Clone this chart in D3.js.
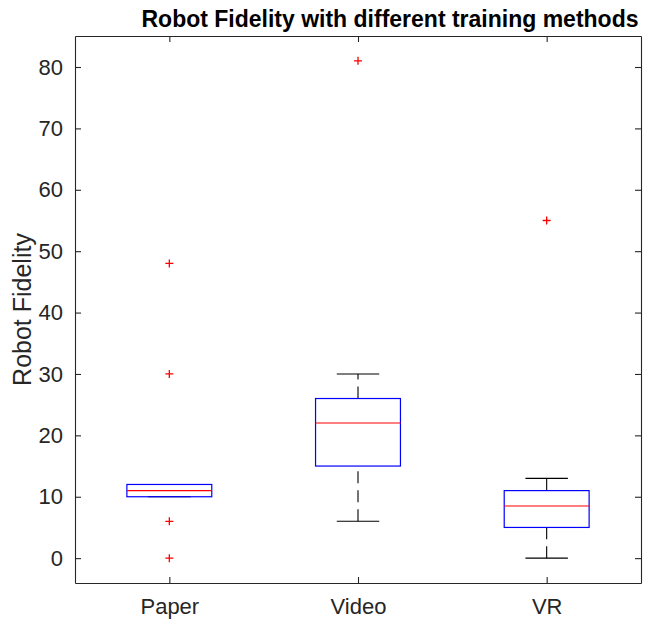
<!DOCTYPE html>
<html>
<head>
<meta charset="utf-8">
<script src="https://cdn.jsdelivr.net/npm/d3@7"></script>
<style>
  html, body { margin: 0; padding: 0; background: #fff; }
  svg { display: block; }
  text { font-family: "Liberation Sans", Arial, Helvetica, sans-serif; }
</style>
</head>
<body>
<svg id="chart" width="648" height="622"></svg>
<script>
// ---- data ----
const categories = ["Paper", "Video", "VR"];
const q1Values = [10, 15, 5];
const medianValues = [11, 22, 8.5];
const q3Values = [12, 26, 11];
const lowerWhisker = [10, 6, 0];
const upperWhisker = [12, 30, 13];
const outliers = [[48, 30, 6, 0], [81], [55]];
const yTicks = [0, 10, 20, 30, 40, 50, 60, 70, 80];
const titleText = "Robot Fidelity with different training methods";
const yLabelText = "Robot Fidelity";

// ---- layout ----
const svg = d3.select("#chart");
const L = 75, R = 641, T = 36, B = 583;
const axisColor = "#262626";

const x = d3.scaleLinear().domain([0.5, 3.5]).range([L, R]);
const y = d3.scaleLinear().domain([-4.05, 85.05]).range([B, T]);
const boxW = 0.45;
const capW = boxW / 2;

// axes
const tickLen = 6;
const yAxisL = d3.axisLeft(y).tickValues(yTicks).tickSizeInner(-tickLen).tickSizeOuter(0).tickPadding(12);
const yAxisR = d3.axisRight(y).tickValues(yTicks).tickSizeInner(-tickLen).tickSizeOuter(0).tickFormat("");
const xAxisB = d3.axisBottom(x).tickValues([1, 2, 3]).tickFormat((d) => categories[d - 1]).tickSizeInner(-tickLen).tickSizeOuter(0).tickPadding(15);
const xAxisT = d3.axisTop(x).tickValues([1, 2, 3]).tickSizeInner(-tickLen).tickSizeOuter(0).tickFormat("");

function styleAxis(g) {
  g.select(".domain").attr("stroke", axisColor).attr("stroke-width", 1.1);
  g.selectAll(".tick line").attr("stroke", axisColor).attr("stroke-width", 1.1);
  g.selectAll(".tick text").attr("fill", axisColor).attr("font-size", 22)
    .attr("font-family", "'Liberation Sans', Arial, Helvetica, sans-serif");
}

svg.append("g").attr("transform", `translate(${L},0)`).call(yAxisL).call(styleAxis);
svg.append("g").attr("transform", `translate(${R},0)`).call(yAxisR).call(styleAxis);
svg.append("g").attr("transform", `translate(0,${B})`).call(xAxisB).call(styleAxis);
svg.append("g").attr("transform", `translate(0,${T})`).call(xAxisT).call(styleAxis);

// boxes
const data = categories.map((c, i) => ({
  i: i + 1, q1: q1Values[i], med: medianValues[i], q3: q3Values[i],
  lo: lowerWhisker[i], hi: upperWhisker[i], out: outliers[i]
}));

const g = svg.append("g");
data.forEach((d) => {
  const cx = x(d.i);
  // whiskers (dashed), drawn from lower value to higher value
  g.append("line").attr("x1", cx).attr("x2", cx)
    .attr("y1", y(d.q3)).attr("y2", y(d.hi))
    .attr("stroke", "#000").attr("stroke-width", 1.1).attr("stroke-dasharray", "12,7");
  g.append("line").attr("x1", cx).attr("x2", cx)
    .attr("y1", y(d.lo)).attr("y2", y(d.q1))
    .attr("stroke", "#000").attr("stroke-width", 1.1).attr("stroke-dasharray", "12,7");
  // caps
  [d.lo, d.hi].forEach((v) => {
    g.append("line").attr("x1", x(d.i - capW / 2)).attr("x2", x(d.i + capW / 2))
      .attr("y1", y(v)).attr("y2", y(v))
      .attr("stroke", "#000").attr("stroke-width", 1.1);
  });
  // box
  g.append("rect").attr("x", x(d.i - boxW / 2)).attr("y", y(d.q3))
    .attr("width", x(d.i + boxW / 2) - x(d.i - boxW / 2))
    .attr("height", y(d.q1) - y(d.q3))
    .attr("fill", "none").attr("stroke", "#0000ff").attr("stroke-width", 1.2);
  // median
  g.append("line").attr("x1", x(d.i - boxW / 2)).attr("x2", x(d.i + boxW / 2))
    .attr("y1", y(d.med)).attr("y2", y(d.med))
    .attr("stroke", "#ff0000").attr("stroke-width", 1.1);
  // outliers
  d.out.forEach((v) => {
    const px = cx, py = y(v), s = 4;
    g.append("path").attr("d", `M${px - s},${py}H${px + s}M${px},${py - s}V${py + s}`)
      .attr("stroke", "#ff0000").attr("stroke-width", 1.3).attr("fill", "none");
  });
});

// title
svg.append("text").attr("x", 390).attr("y", 27)
  .attr("text-anchor", "middle").attr("font-weight", "bold").attr("font-size", 23)
  .attr("fill", "#000").text(titleText);

// y label
svg.append("text").attr("transform", `translate(31,${(T + B) / 2}) rotate(-90)`)
  .attr("text-anchor", "middle").attr("font-size", 25).attr("fill", axisColor)
  .text(yLabelText);
</script>
</body>
</html>
